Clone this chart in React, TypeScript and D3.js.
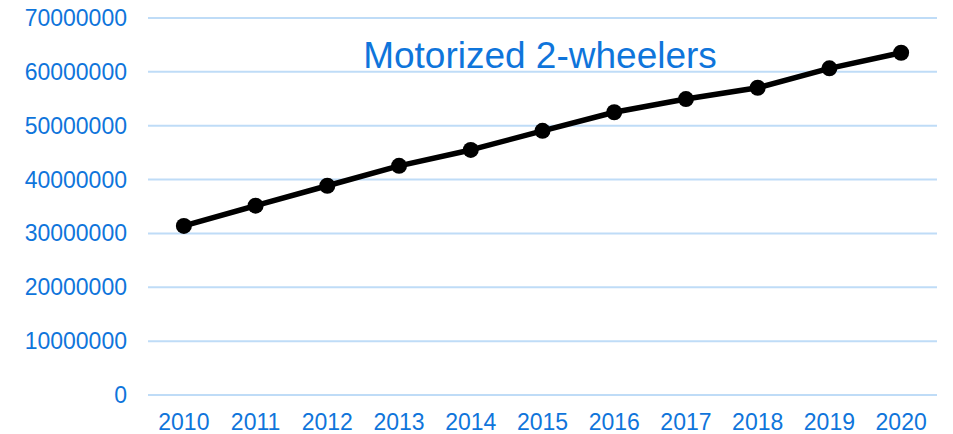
import React, {useEffect, useRef} from 'react'
import * as d3 from 'd3'

const years = ['2010', '2011', '2012', '2013', '2014', '2015', '2016', '2017', '2018', '2019', '2020']
const vehicles = [31400000, 35150000, 38850000, 42550000, 45500000, 49050000, 52500000, 54950000, 57050000, 60650000, 63550000]
const yTicks = [0, 10000000, 20000000, 30000000, 40000000, 50000000, 60000000, 70000000]
const title = 'Motorized 2-wheelers'

const width = 953
const height = 434
const blue = '#0f75db'
const grid = '#bfdcf7'
const font = 'Arial, "Liberation Sans", sans-serif'

export default function App() {
  const svgRef = useRef<SVGSVGElement>(null)

  useEffect(() => {
    document.body.style.margin = '0'

    const x = d3.scalePoint().domain(years).range([148, 937]).padding(0.5)
    const y = d3.scaleLinear().domain([0, 70000000]).range([395, 18])

    const svg = d3.select(svgRef.current)
    svg.selectAll('*').remove()

    // gridlines
    svg.append('g')
      .selectAll('line')
      .data(yTicks)
      .enter()
      .append('line')
      .attr('x1', 148)
      .attr('x2', 937)
      .attr('y1', d => y(d))
      .attr('y2', d => y(d))
      .attr('stroke', grid)
      .attr('stroke-width', 2)

    // y labels
    svg.append('g')
      .selectAll('text')
      .data(yTicks)
      .enter()
      .append('text')
      .attr('x', 127)
      .attr('y', d => y(d))
      .attr('dy', '0.35em')
      .attr('text-anchor', 'end')
      .attr('font-family', font)
      .attr('font-size', 23)
      .attr('fill', blue)
      .text(d => String(d))

    // x labels
    svg.append('g')
      .selectAll('text')
      .data(years)
      .enter()
      .append('text')
      .attr('x', d => x(d) as number)
      .attr('y', 430)
      .attr('text-anchor', 'middle')
      .attr('font-family', font)
      .attr('font-size', 23)
      .attr('fill', blue)
      .text(d => d)

    // title
    svg.append('text')
      .attr('x', 540)
      .attr('y', 68)
      .attr('text-anchor', 'middle')
      .attr('font-family', font)
      .attr('font-size', 37)
      .attr('fill', blue)
      .text(title)

    const pts = years.map((yr, i) => [x(yr) as number, y(vehicles[i])] as [number, number])

    svg.append('path')
      .attr('d', d3.line()(pts))
      .attr('fill', 'none')
      .attr('stroke', '#000')
      .attr('stroke-width', 5.5)
      .attr('stroke-linejoin', 'round')

    svg.append('g')
      .selectAll('circle')
      .data(pts)
      .enter()
      .append('circle')
      .attr('cx', d => d[0])
      .attr('cy', d => d[1])
      .attr('r', 8)
      .attr('fill', '#000')
  }, [])

  return <svg ref={svgRef} width={width} height={height} style={{display: 'block', background: '#fff'}} />
}
